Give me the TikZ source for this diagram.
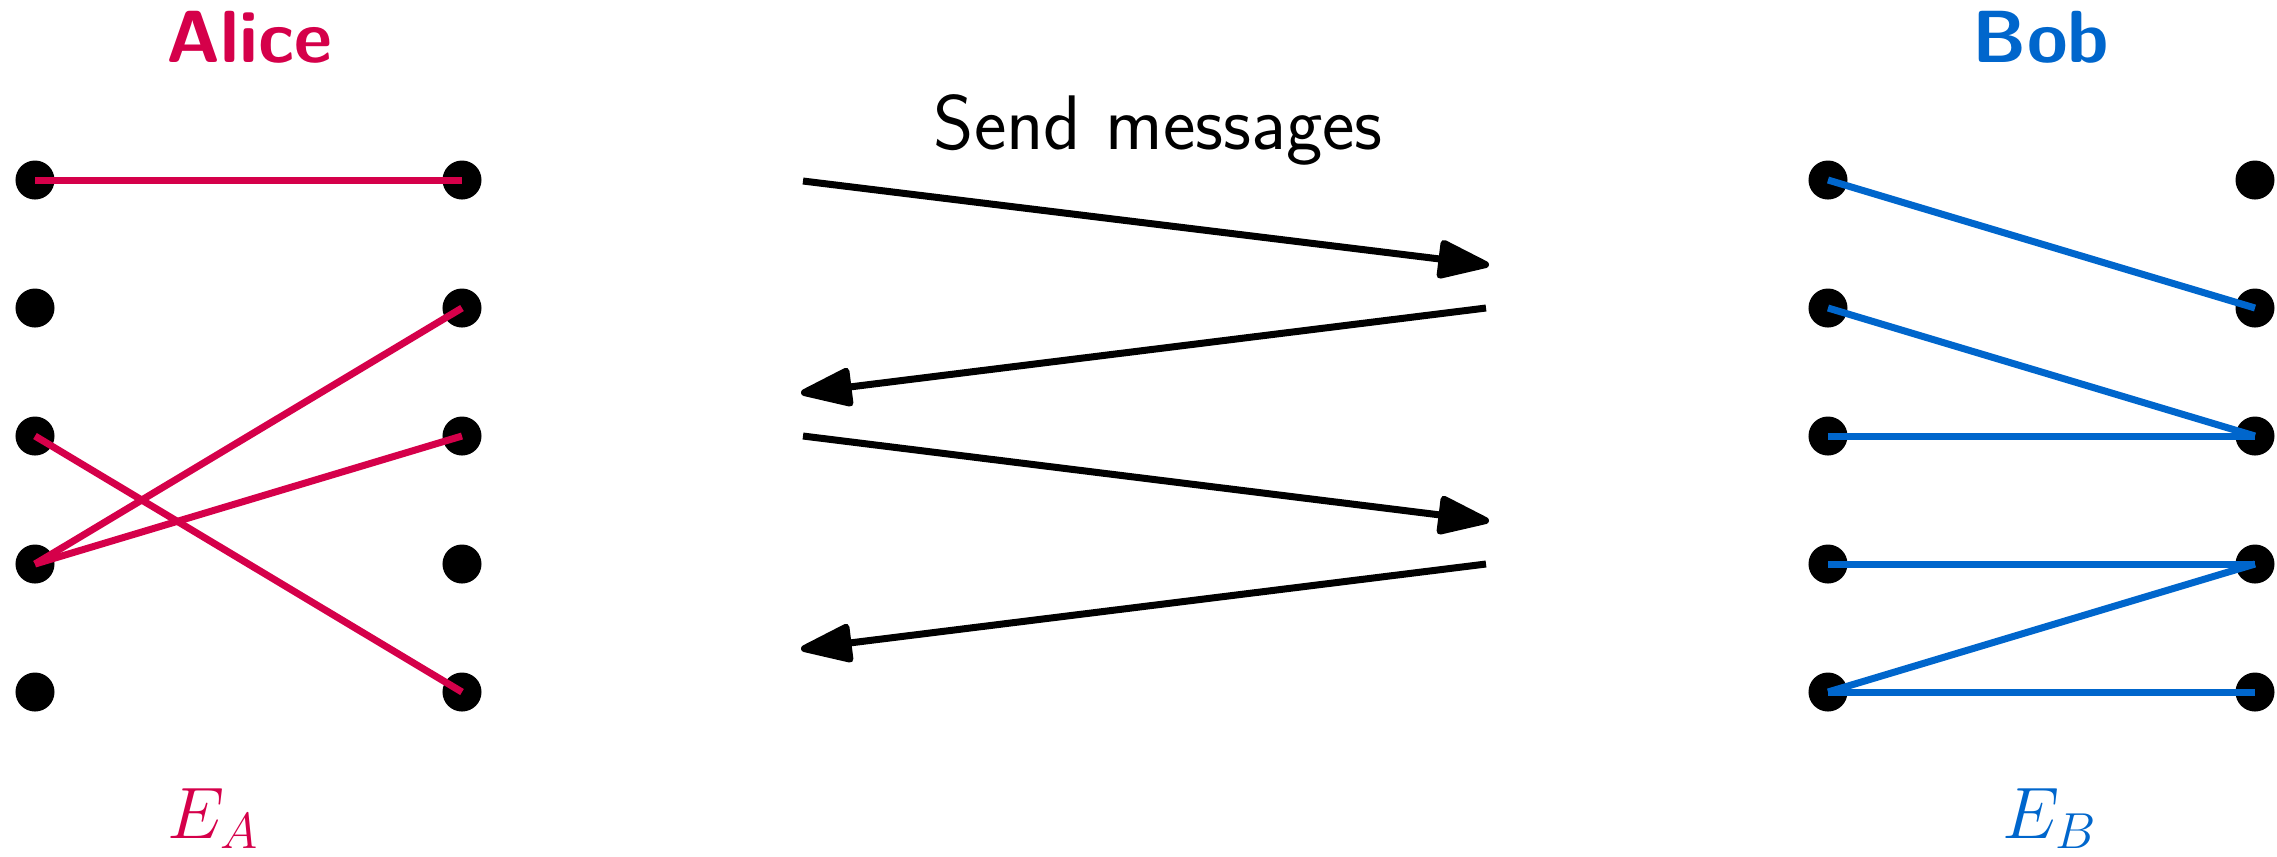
\documentclass[tikz,border=0pt]{standalone}
\usetikzlibrary{arrows.meta}
\definecolor{alicered}{RGB}{213,0,74}
\definecolor{bobblue}{RGB}{0,102,204}
\begin{document}
\begin{tikzpicture}[x=0.01cm,y=-0.01cm,
  dot/.style={circle,fill=black,inner sep=0pt,minimum size=0.39cm},
  aedge/.style={draw=alicered,line width=0.07cm},
  bedge/.style={draw=bobblue,line width=0.07cm},
  msg/.style={draw=black,line width=0.07cm,-{Triangle[length=0.58cm,width=0.40cm,round]}},
  title/.style={inner sep=0pt,anchor=base,font=\sffamily\bfseries\fontsize{21}{25}\selectfont},
  lbl/.style={inner sep=0pt,anchor=base west,font=\huge},
]
\useasboundingbox (0,0) rectangle (2277,856);
% dots
\foreach \i/\y in {1/180,2/308,3/436,4/564,5/692}{
  \node[dot] (al\i) at (35,\y) {};
  \node[dot] (ar\i) at (462,\y) {};
  \node[dot] (bl\i) at (1828,\y) {};
  \node[dot] (br\i) at (2255,\y) {};
}
% Alice edges
\draw[aedge] (al1.center) -- (ar1.center);
\draw[aedge] (al4.center) -- (ar2.center);
\draw[aedge] (al3.center) -- (ar5.center);
\draw[aedge] (al4.center) -- (ar3.center);
% Bob edges
\draw[bedge] (bl1.center) -- (br2.center);
\draw[bedge] (bl2.center) -- (br3.center);
\draw[bedge] (bl3.center) -- (br3.center);
\draw[bedge] (bl4.center) -- (br4.center);
\draw[bedge] (bl5.center) -- (br4.center);
\draw[bedge] (bl5.center) -- (br5.center);
% messages
\coordinate (m1s) at (803,181);  \coordinate (m1e) at (1489,265);
\coordinate (m2s) at (1486,308); \coordinate (m2e) at (801,393);
\coordinate (m3s) at (803,436);  \coordinate (m3e) at (1489,521);
\coordinate (m4s) at (1486,564); \coordinate (m4e) at (801,649);
\draw[msg] (m1s) -- (m1e);
\draw[msg] (m2s) -- (m2e);
\draw[msg] (m3s) -- (m3e);
\draw[msg] (m4s) -- (m4e);
% labels
\node[title,text=alicered] (alice) at (249,62) {Alice};
\node[title,text=bobblue] (bob) at (2041,62) {Bob};
\node[inner sep=0pt,anchor=base west,font=\sffamily\fontsize{22}{26}\selectfont] (send) at (933,149) {Send messages};
\node[lbl,text=alicered] (ea) at (167,838) {$E_A$};
\node[lbl,text=bobblue] (eb) at (2002,838) {$E_B$};
\end{tikzpicture}
\end{document}
